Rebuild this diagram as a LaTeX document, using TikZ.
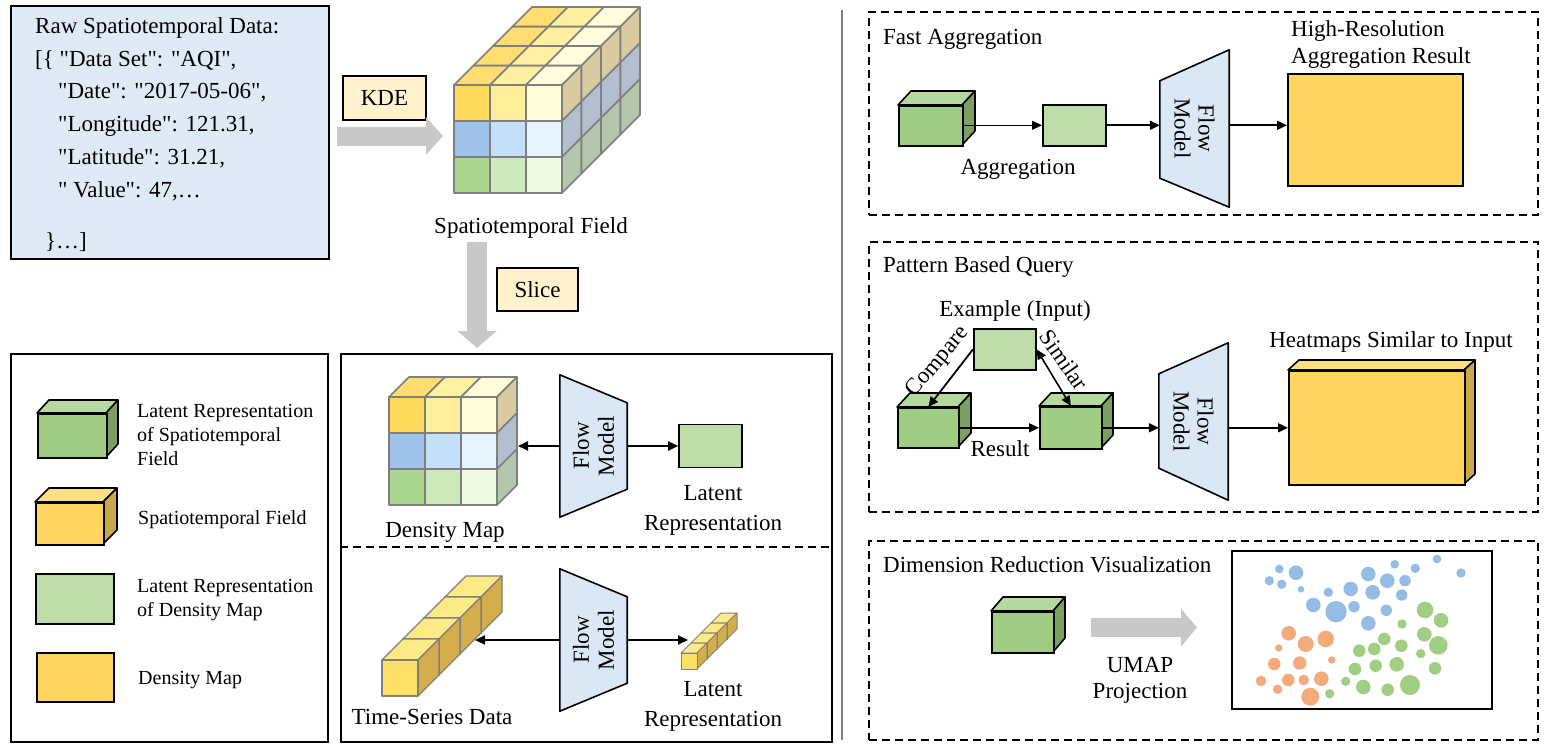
\documentclass[tikz,border=0pt]{standalone}
\usepackage{fontspec}
\setmainfont{Liberation Serif}[Ligatures=TeXOff]
\usetikzlibrary{arrows.meta}
\definecolor{rawbg}{HTML}{DEEAF6}
\definecolor{tagbg}{HTML}{FFF2CC}
\definecolor{flowbg}{HTML}{DAE8F6}
\definecolor{lgreen}{HTML}{C0DCA8}
\definecolor{yel}{HTML}{FFD45F}
\definecolor{gcF}{HTML}{A0CB84}
\definecolor{gcT}{HTML}{B6D9A0}
\definecolor{gcS}{HTML}{7C9F62}
\definecolor{ycF}{HTML}{FFD45F}
\definecolor{ycT}{HTML}{FFDF85}
\definecolor{ycS}{HTML}{C9A74C}
\definecolor{fatarrow}{HTML}{C8C8C8}
\definecolor{gridc}{HTML}{7F7F7F}
\definecolor{sepc}{HTML}{808080}
\definecolor{fc00}{HTML}{FFD95A}
\definecolor{fc10}{HTML}{FFEE99}
\definecolor{fc20}{HTML}{FFFED6}
\definecolor{fc01}{HTML}{9DC3EB}
\definecolor{fc11}{HTML}{C3DFF9}
\definecolor{fc21}{HTML}{E6F4FF}
\definecolor{fc02}{HTML}{A9D68E}
\definecolor{fc12}{HTML}{CDEBBA}
\definecolor{fc22}{HTML}{EDFBE3}
\definecolor{tc0}{HTML}{FFDD70}
\definecolor{tc1}{HTML}{FFF0A0}
\definecolor{tc2}{HTML}{FFFCDA}
\definecolor{sc0}{HTML}{D8CBA0}
\definecolor{sc1}{HTML}{B3BFCF}
\definecolor{sc2}{HTML}{B4C6AC}
\definecolor{brT}{HTML}{FFEA88}
\definecolor{brF}{HTML}{FFE066}
\definecolor{brS}{HTML}{D4AE4A}
\definecolor{ptB}{HTML}{94BCE4}
\definecolor{ptG}{HTML}{A2CE84}
\definecolor{ptO}{HTML}{F3AA7C}

\newcommand{\mycuboid}[8]{%
 \filldraw[fill=#8T, draw=black, line width=1.6pt, line join=round] (#2,#3) -- ++(#6,-#7) -- ++(#4,0) -- ++(-#6,#7) -- cycle;
 \filldraw[fill=#8S, draw=black, line width=1.6pt, line join=round] (#2+#4,#3) -- ++(#6,-#7) -- ++(0,#5) -- ++(-#6,#7) -- cycle;
 \node[draw=black, line width=1.6pt, fill=#8F, minimum width=#4pt, minimum height=#5pt, inner sep=0pt, anchor=north west] (#1) at (#2,#3) {};
}

\begin{document}
\begin{tikzpicture}[x=1pt, y=-1pt,
  every node/.style={font=\fontsize{23}{27}\selectfont},
  box/.style={draw=black, line width=1.8pt, inner sep=0pt, anchor=north west},
  dbox/.style={draw=black, line width=1.6pt, dash pattern=on 8pt off 5pt, inner sep=0pt, anchor=north west},
  arr/.style={line width=1.8pt, -{Triangle[length=10pt,width=9pt]}},
  darr/.style={line width=1.6pt, {Triangle[length=10pt,width=9pt]}-{Triangle[length=10pt,width=9pt]}},
  fat/.style={draw=fatarrow, line width=19pt, -{Triangle[length=17pt,width=37pt]}},
  cell/.style={draw=gridc, line width=1.6pt, line join=round},
  bcell/.style={draw=gridc, line width=1.3pt, line join=round},
  tag/.style={draw=black, line width=1.8pt, fill=tagbg, inner sep=0pt},
  fmbox/.style={inner sep=0pt, draw=none},
  fmshape/.style={draw=black, line width=1.6pt, fill=flowbg, line join=round},
  leg/.style={inner sep=0pt, anchor=west, align=left, font=\fontsize{20}{24}\selectfont},
  rawt/.style={inner sep=0pt, anchor=base west},
  lrect/.style={draw=black, line width=1.6pt, fill=lgreen, inner sep=0pt},
  yrect/.style={draw=black, line width=1.6pt, fill=yel, inner sep=0pt}
]
\useasboundingbox (0,0) rectangle (1550,750);

% ---------- raw data ----------
\node[box, fill=rawbg, minimum width=318pt, minimum height=253pt] (rd) at (10,5) {};
\node[rawt] (r1) at (35,33) {Raw Spatiotemporal Data:};
\node[rawt] (r2) at (35,66) {[\{ "Data Set": "AQI",};
\node[rawt] (r3) at (58,98) {"Date": "2017-05-06",};
\node[rawt] (r4) at (58,131) {"Longitude": 121.31,};
\node[rawt] (r5) at (58,164) {"Latitude": 31.21,};
\node[rawt] (r6) at (58,197) {" Value": 47,…};
\node[rawt] (r7) at (45,248) {\}…]};

% ---------- KDE ----------
\node[tag, minimum width=83pt, minimum height=44pt] (kde) at (384.5,98) {KDE};
\coordinate (kA) at (337,136);
\coordinate (kB) at (443,136);
\draw[fat] (kA) -- (kB);

% ---------- big cube ----------
\foreach \i in {0,1,2} \foreach \k in {0,1,2,3} {
  \filldraw[cell, fill=tc\i] ({454+36*\i+19.5*\k},{85-19.5*\k}) -- ++(19.5,-19.5) -- ++(36,0) -- ++(-19.5,19.5) -- cycle;
}
\foreach \j in {0,1,2} \foreach \k in {0,1,2,3} {
  \filldraw[cell, fill=sc\j] ({562+19.5*\k},{85+36*\j-19.5*\k}) -- ++(19.5,-19.5) -- ++(0,36) -- ++(-19.5,19.5) -- cycle;
}
\foreach \i in {0,1,2} \foreach \j in {0,1,2} {
  \filldraw[cell, fill=fc\i\j] ({454+36*\i},{85+36*\j}) rectangle ++(36,36);
}
\node[inner sep=0pt] (stf) at (531,228) {Spatiotemporal Field};

% ---------- slice ----------
\coordinate (sA) at (477,242);
\coordinate (sB) at (477,348);
\draw[fat, line width=20pt, -{Triangle[length=17pt,width=38pt]}] (sA) -- (sB);
\node[tag, minimum width=81pt, minimum height=43pt] (slice) at (537.5,289.5) {Slice};

% ---------- legend ----------
\node[box, minimum width=317pt, minimum height=388pt] (legbox) at (10,353) {};
\mycuboid{lg1}{37}{413}{69}{44}{12}{13}{gc}
\node[leg] (lt1) at (137,435) {Latent Representation\\of Spatiotemporal\\Field};
\mycuboid{lg2}{35}{502}{68}{42}{14}{14}{yc}
\node[leg] (lt2) at (138,520) {Spatiotemporal Field};
\node[lrect, minimum width=78pt, minimum height=50pt, anchor=north west] (lg3) at (35,573) {};
\node[leg] (lt3) at (137,600) {Latent Representation\\of Density Map};
\node[yrect, minimum width=77pt, minimum height=49pt, anchor=north west] (lg4) at (36,652) {};
\node[leg] (lt4) at (138,680) {Density Map};

% ---------- middle box ----------
\node[box, minimum width=491pt, minimum height=388pt] (mid) at (340,353) {};
\draw[line width=1.6pt, dash pattern=on 8pt off 5pt] (mid.west |- 0,547) -- (mid.east |- 0,547);

% density map cube
\foreach \i in {0,1,2} {
  \filldraw[cell, fill=tc\i] ({389+36*\i},397) -- ++(20,-20) -- ++(36,0) -- ++(-20,20) -- cycle;
}
\foreach \j in {0,1,2} {
  \filldraw[cell, fill=sc\j] (497,{397+36*\j}) -- ++(20,-20) -- ++(0,36) -- ++(-20,20) -- cycle;
}
\foreach \i in {0,1,2} \foreach \j in {0,1,2} {
  \filldraw[cell, fill=fc\i\j] ({389+36*\i},{397+36*\j}) rectangle ++(36,36);
}
\coordinate (dmR) at (518,446);
\node[inner sep=0pt] (dml) at (445,532) {Density Map};

% flow model upper
\node[fmbox, minimum width=67pt, minimum height=142pt] (fm1) at (593.5,446) {};
\draw[fmshape] (fm1.north west) -- (fm1.south west) -- ([yshift=28pt]fm1.south east) -- ([yshift=-28pt]fm1.north east) -- cycle;
\node[rotate=90, align=center, inner sep=0pt, font=\fontsize{23}{25}\selectfont] (fm1t) at (fm1.center) {Flow\\Model};
\node[lrect, minimum width=63pt, minimum height=43pt] (lat1) at (710.5,446) {};
\node[align=center, inner sep=0pt, font=\fontsize{23}{30}\selectfont] (lat1t) at (713,510) {Latent\\Representation};
\draw[arr] (fm1.west) -- (dmR);
\draw[arr] (fm1.east) -- (lat1.west);

% time-series bar
\foreach \k in {3,2,1,0} {
  \filldraw[bcell, fill=brT] ({382+21*\k},{660-21*\k}) -- ++(21,-21) -- ++(36,0) -- ++(-21,21) -- cycle;
  \filldraw[bcell, fill=brS] ({418+21*\k},{660-21*\k}) -- ++(21,-21) -- ++(0,36) -- ++(-21,21) -- cycle;
  \filldraw[bcell, fill=brF] ({382+21*\k},{660-21*\k}) rectangle ++(36,36);
}
\coordinate (tsR) at (475,640);
\node[inner sep=0pt] (tsl) at (432,717) {Time-Series Data};

% small bar
\foreach \k in {3,2,1,0} {
  \filldraw[bcell, line width=1pt, fill=brT] ({681+10*\k},{653-10*\k}) -- ++(10,-10) -- ++(16,0) -- ++(-10,10) -- cycle;
  \filldraw[bcell, line width=1pt, fill=brS] ({697+10*\k},{653-10*\k}) -- ++(10,-10) -- ++(0,16) -- ++(-10,10) -- cycle;
  \filldraw[bcell, line width=1pt, fill=brF] ({681+10*\k},{653-10*\k}) rectangle ++(16,16);
}
\coordinate (sbL) at (688,640);

% flow model lower
\node[fmbox, minimum width=67pt, minimum height=142pt] (fm1b) at (593.5,640) {};
\draw[fmshape] (fm1b.north west) -- (fm1b.south west) -- ([yshift=28pt]fm1b.south east) -- ([yshift=-28pt]fm1b.north east) -- cycle;
\node[rotate=90, align=center, inner sep=0pt, font=\fontsize{23}{25}\selectfont] (fm1bt) at (fm1b.center) {Flow\\Model};
\node[align=center, inner sep=0pt, font=\fontsize{23}{30}\selectfont] (lat2t) at (713,706) {Latent\\Representation};
\draw[arr] (fm1b.west) -- (tsR);
\draw[arr] (fm1b.east) -- (sbL);

% ---------- separator ----------
\coordinate (vT) at (842,10);
\coordinate (vB) at (842,740);
\draw[draw=sepc, line width=2pt] (vT) -- (vB);

% ---------- fast aggregation ----------
\node[dbox, minimum width=669pt, minimum height=203pt] (fa) at (868,11) {};
\node[inner sep=0pt, anchor=west] (fat) at (883,39) {Fast Aggregation};
\mycuboid{fac}{898}{105}{64}{40}{13}{14}{gc}
\node[lrect, minimum width=63pt, minimum height=41pt, anchor=north west] (far) at (1042,104) {};
\node[inner sep=0pt] (fal) at (1018,169) {Aggregation};
\node[fmbox, minimum width=69pt, minimum height=157pt] (fm2) at (1194.5,128.5) {};
\draw[fmshape] ([yshift=-31pt]fm2.north west) -- ([yshift=29pt]fm2.south west) -- (fm2.south east) -- (fm2.north east) -- cycle;
\node[rotate=-90, align=center, inner sep=0pt, font=\fontsize{23}{24}\selectfont] (fm2t) at (fm2.center) {Flow\\Model};
\node[yrect, minimum width=175pt, minimum height=112pt, anchor=north west] (hr) at (1287,73) {};
\node[inner sep=0pt, anchor=west, align=left] (hrt) at (1291,44) {High-Resolution\\Aggregation Result};
\draw[line width=1.2pt, -{Triangle[length=10pt,width=9pt]}] (fac.east |- far.west) -- (far.west);
\draw[arr] (far.east) -- (far.east -| fm2.west);
\draw[arr] (fm2.east |- far.east) -- (far.east -| hr.west);

% ---------- pattern based query ----------
\node[dbox, minimum width=669pt, minimum height=270pt] (pq) at (868,241) {};
\node[inner sep=0pt, anchor=west] (pqt) at (883,267) {Pattern Based Query};
\node[inner sep=0pt] (ext) at (1015,311) {Example (Input)};
\node[lrect, minimum width=62pt, minimum height=41pt, anchor=north west] (ex) at (973,328) {};
\mycuboid{cA}{897}{407}{61}{40}{13}{14}{gc}
\mycuboid{cB}{1039}{406}{62}{42}{12}{13}{gc}
\draw[arr] (ex.west) -- (cA.north);
\draw[darr] (ex.east) -- (cB.north);
\draw[arr] (cA.east) -- (cB.west);
\node[inner sep=0pt, rotate=50] (cmp) at (938,362) {Compare};
\node[inner sep=0pt, rotate=-55] (sim) at (1064,360) {Similar};
\node[inner sep=0pt] (res) at (1000,449) {Result};
\node[fmbox, minimum width=69pt, minimum height=157pt] (fm3) at (1193.5,421.5) {};
\draw[fmshape] ([yshift=-31pt]fm3.north west) -- ([yshift=32pt]fm3.south west) -- (fm3.south east) -- (fm3.north east) -- cycle;
\node[rotate=-90, align=center, inner sep=0pt, font=\fontsize{23}{24}\selectfont] (fm3t) at (fm3.center) {Flow\\Model};
\mycuboid{hm}{1288}{370}{176}{114}{11}{10}{yc}
\node[inner sep=0pt] (hmt) at (1391,342) {Heatmaps Similar to Input};
\draw[arr] (cB.east) -- (cB.east -| fm3.west);
\draw[arr] (fm3.east |- hm.west) -- (hm.west);

% ---------- dimension reduction ----------
\node[dbox, minimum width=669pt, minimum height=199pt] (dr) at (868,540) {};
\node[inner sep=0pt, anchor=west] (drt) at (883,565) {Dimension Reduction Visualization};
\mycuboid{drc}{991}{611}{62}{41}{12}{14}{gc}
\coordinate (uA) at (1091,627.5);
\coordinate (uB) at (1197,627.5);
\draw[fat, -{Triangle[length=16pt,width=37pt]}] (uA) -- (uB);
\node[align=center, inner sep=0pt, font=\fontsize{23}{26}\selectfont] (umap) at (1140,680) {UMAP\\Projection};
\node[box, minimum width=260pt, minimum height=158pt] (sp) at (1231,550) {};
\foreach \x/\y/\r in {1279.3/569/4.3, 1296/572.7/7.3, 1269.3/580.7/4.7, 1281.7/584.3/4.7, 1301/589.3/3.3, 1313.3/605/7.3, 1336/611.7/10.7, 1328.3/592.3/4.7, 1350.7/589/7.3, 1354/606.7/5.7, 1368.3/574/7.3, 1372.7/592.3/7.3, 1387.3/580.7/7.3, 1394.7/564.3/4.3, 1405/580.7/5.7, 1401.7/595/5.7, 1415.3/568.3/4.7, 1437/559/4.3, 1461/573/4.7, 1386.3/610.3/5.7, 1368.3/623.3/7.3}
  { \fill[ptB] (\x,\y) circle (\r pt); }
\foreach \x/\y/\r in {1425/610/8.3, 1441/620.3/7.3, 1402/624/4.7, 1424.3/634.3/7.3, 1438.3/645.3/9.3, 1420.7/653.7/4.7, 1435/668.3/6.3, 1384.3/639/6.3, 1401.3/645.7/6.3, 1374.3/649/6.3, 1359.3/650.7/6.3, 1375.7/665.7/6.3, 1396.7/664.3/7.3, 1355/669/6.3, 1345.7/681.3/4.7, 1363.3/687/7.3, 1387.7/689.7/6.3, 1410/685/10, 1329.7/693.7/4.7}
  { \fill[ptG] (\x,\y) circle (\r pt); }
\foreach \x/\y/\r in {1288.7/633.3/7.3, 1305.7/644/8, 1325.7/639/8.3, 1278.7/648/3.7, 1331.7/660/3.7, 1274.3/664/6.3, 1299.7/663/6.7, 1261/681/5.3, 1288.3/680/6.3, 1303.7/680/5.3, 1321.3/678.7/7.3, 1277.7/689.3/4.7, 1310.3/696.7/9}
  { \fill[ptO] (\x,\y) circle (\r pt); }
\end{tikzpicture}
\end{document}
